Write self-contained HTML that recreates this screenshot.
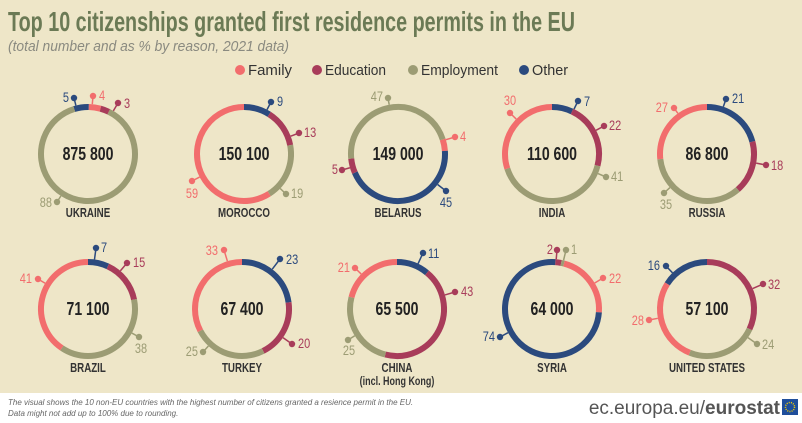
<!DOCTYPE html>
<html><head><meta charset="utf-8"><style>
html,body{margin:0;padding:0;width:802px;height:423px;overflow:hidden;background:#fff}
svg{display:block;font-family:"Liberation Sans",sans-serif}
</style></head><body>
<svg id="s" width="802" height="423" viewBox="0 0 802 423" xmlns="http://www.w3.org/2000/svg">
<rect x="0" y="0" width="802" height="393" fill="#eee6c8"/>
<text x="8" y="31" font-size="28" font-weight="bold" fill="#6b7a55" textLength="567" lengthAdjust="spacingAndGlyphs">Top 10 citizenships granted first residence permits in the EU</text>
<text x="8" y="51" font-size="15" font-style="italic" fill="#8a8a80" textLength="281" lengthAdjust="spacingAndGlyphs">(total number and as % by reason, 2021 data)</text>
<g font-size="15" fill="#333">
<circle cx="240" cy="70" r="5" fill="#f26d6d"/><text x="248" y="75" textLength="44" lengthAdjust="spacingAndGlyphs">Family</text>
<circle cx="317" cy="70" r="5" fill="#a83c5a"/><text x="325" y="75" textLength="61" lengthAdjust="spacingAndGlyphs">Education</text>
<circle cx="413" cy="70" r="5" fill="#9c9c74"/><text x="421" y="75" textLength="77" lengthAdjust="spacingAndGlyphs">Employment</text>
<circle cx="524" cy="70" r="5" fill="#2b4a7e"/><text x="532" y="75" textLength="36" lengthAdjust="spacingAndGlyphs">Other</text>
</g>
<g id="charts"></g>
<text x="8" y="405" font-size="8" font-style="italic" fill="#666">The visual shows the 10 non-EU countries with the highest number of citizens granted a resience permit in the EU.</text>
<text x="8" y="416" font-size="8" font-style="italic" fill="#666">Data might not add up to 100% due to rounding.</text>
<text x="780" y="414" font-size="19" text-anchor="end" fill="#555">ec.europa.eu/<tspan font-weight="bold">eurostat</tspan></text>
<rect x="782" y="399" width="16" height="16" fill="#1f4e9b"/>
<circle cx="790" cy="407" r="4.5" fill="none" stroke="#f5d000" stroke-width="1.5" stroke-dasharray="1 1.2"/>
</svg>
<script>
var C={F:"#f26d6d",E:"#a83c5a",M:"#9c9c74",O:"#2b4a7e"};
var data=[
[88,154,"875 800","UKRAINE",-17,[["O",5],["F",4],["E",3],["M",88]],
 [["O",5,74,98,69,102,"end"],["F",4,93,96,99,100,"start"],["E",3,118,103,124,108,"start"],["M",88,57,202,52,207,"end"]]],
[244,154,"150 100","MOROCCO",0,[["O",9],["E",13],["M",19],["F",59]],
 [["O",9,271,102,277,106,"start"],["E",13,299,133,304,137,"start"],["M",19,286,194,291,198,"start"],["F",59,192,181,192,198,"middle"]]],
[398,154,"149 000","BELARUS",72,[["F",4],["O",45],["E",5],["M",47]],
 [["M",47,388,98,383,101,"end"],["F",4,455,137,460,141,"start"],["E",5,342,170,338,174,"end"],["O",45,446,191,446,207,"middle"]]],
[552,154,"110 600","INDIA",0,[["O",7],["E",22],["M",41],["F",30]],
 [["F",30,510,113,510,105,"middle"],["O",7,578,101,584,106,"start"],["E",22,604,126,609,130,"start"],["M",41,606,177,611,181,"start"]]],
[707,154,"86 800","RUSSIA",0,[["O",21],["E",18],["M",35],["F",27]],
 [["F",27,674,108,668,112,"end"],["O",21,726,99,732,103,"start"],["E",18,766,165,771,170,"start"],["M",35,664,193,666,209,"middle"]]],
[88,309,"71 100","BRAZIL",0,[["O",7],["E",15],["M",38],["F",41]],
 [["O",7,96,248,101,252,"start"],["E",15,127,263,133,267,"start"],["F",41,38,279,32,283,"end"],["M",38,139,337,141,353,"middle"]]],
[242,309,"67 400","TURKEY",0,[["O",23],["E",20],["M",25],["F",33]],
 [["F",33,224,250,218,255,"end"],["O",23,280,259,286,264,"start"],["E",20,292,344,298,348,"start"],["M",25,203,352,198,356,"end"]]],
[397,309,"65 500","CHINA",0,[["O",11],["E",43],["M",25],["F",21]],
 [["F",21,355,268,350,272,"end"],["O",11,423,253,428,258,"start"],["E",43,455,292,461,296,"start"],["M",25,348,340,349,355,"middle"]]],
[552,309,"64 000","SYRIA",4,[["E",2],["M",1],["F",22],["O",75]],
 [["E",2,557,250,553,254,"end"],["M",1,566,250,571,254,"start"],["F",22,603,278,609,283,"start"],["O",74,500,337,495,341,"end"]]],
[707,309,"57 100","UNITED STATES",0,[["E",32],["M",24],["F",28],["O",16]],
 [["O",16,666,266,660,270,"end"],["E",32,763,284,768,289,"start"],["M",24,757,344,762,349,"start"],["F",28,649,320,644,325,"end"]]]
];
var g=document.getElementById("charts"),h="",R=47;
function pt(cx,cy,r,a){var t=(a-90)*Math.PI/180;return [cx+r*Math.cos(t),cy+r*Math.sin(t)];}
data.forEach(function(d){
 var cx=d[0],cy=d[1],a=d[4],tot=0;d[5].forEach(function(s){tot+=s[1]});
 d[5].forEach(function(s){
  var sw=s[1]/tot*360,a2=a+sw,p1=pt(cx,cy,R,a),p2=pt(cx,cy,R,a2),l=sw>180?1:0;
  h+='<path d="M'+p1[0]+' '+p1[1]+' A'+R+' '+R+' 0 '+l+' 1 '+p2[0]+' '+p2[1]+'" fill="none" stroke="'+C[s[0]]+'" stroke-width="6"/>';
  a=a2;
 });
 d[6].forEach(function(L){
  var c=C[L[0]],dx=L[2]-cx,dy=L[3]-cy,dd=Math.sqrt(dx*dx+dy*dy),rx=cx+dx/dd*(R+3),ry=cy+dy/dd*(R+3);
  h+='<line x1="'+rx+'" y1="'+ry+'" x2="'+L[2]+'" y2="'+L[3]+'" stroke="'+c+'" stroke-width="1.5"/>';
  h+='<circle cx="'+L[2]+'" cy="'+L[3]+'" r="3.2" fill="'+c+'"/>';
  h+='<text class="n" x="'+L[4]+'" y="'+L[5]+'" font-size="14" text-anchor="'+L[6]+'" fill="'+c+'">'+L[1]+'</text>';
 });
 h+='<text class="n" x="'+cx+'" y="'+(cy+6)+'" font-size="18" font-weight="bold" text-anchor="middle" fill="#222">'+d[2]+'</text>';
 h+='<text class="n" x="'+cx+'" y="'+(cy+63)+'" font-size="12.5" font-weight="bold" text-anchor="middle" fill="#333">'+d[3]+'</text>';
 if(d[3]=="CHINA")h+='<text class="n" x="'+cx+'" y="'+(cy+76)+'" font-size="11.5" font-weight="bold" text-anchor="middle" fill="#333">(incl. Hong Kong)</text>';
});
g.innerHTML=h;
document.querySelectorAll("text.n").forEach(function(t){
 var w=t.getComputedTextLength();
 t.setAttribute("textLength",(w*0.78).toFixed(1));
 t.setAttribute("lengthAdjust","spacingAndGlyphs");
});
</script>
</body></html>
